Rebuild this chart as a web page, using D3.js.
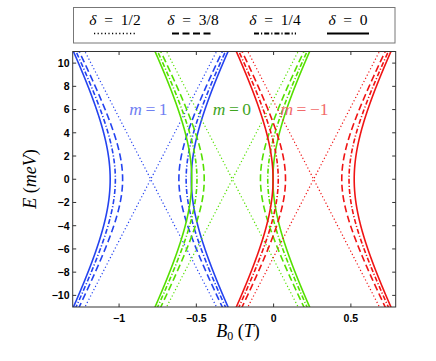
<!DOCTYPE html>
<html>
<head>
<meta charset="utf-8">
<script src="https://cdn.jsdelivr.net/npm/d3@7"></script>
<style>
  html, body { margin: 0; padding: 0; background: #fff; }
  svg { display: block; }
</style>
</head>
<body>
<svg id="chart" width="436" height="361"></svg>
<script>
// ---- data ----
const mLabels = ["m = 1", "m = 0", "m = \u22121"];
const mCenters = [-0.795, -0.267, 0.259];          // B0 (T) where each m family is centred
const mColors = ["#2443f0", "#55e000", "#f01414"];
const mLabelColors = ["#6f80f2", "#3fa51f", "#f26a6a"];
const mLabelX = [-0.81, -0.27, 0.20];               // label centre positions (data units)
const mLabelE = [5.5, 5.5, 5.5];

const deltaNames = ["1/2", "3/8", "1/4", "0"];
const deltaGaps = [0, 0.182, 0.229, 0.2625];       // half-gap at E = 0 (T)
const deltaDash = ["1.2,2.4", "7,3.5", "5,2,1.2,2", null];
const deltaWidth = [1.2, 1.6, 1.6, 1.6];

const slopeBE = 0.0387;                             // dB/dE (T per meV) of the asymptotes
const xTicks = [-1, -0.5, 0, 0.5];
const yTicks = [-10, -8, -6, -4, -2, 0, 2, 4, 6, 8, 10];
const xDomain = [-1.3, 0.79];
const yDomain = [-11, 11];

// ---- layout ----
const svg = d3.select("#chart");
const L = 72.7, R = 395.7, T = 51.5, B = 307;
const x = d3.scaleLinear().domain(xDomain).range([L, R]);
const y = d3.scaleLinear().domain(yDomain).range([B, T]);

svg.append("rect").attr("width", 436).attr("height", 361).attr("fill", "#fff");

svg.append("defs").append("clipPath").attr("id", "clip")
  .append("rect").attr("x", L).attr("y", T).attr("width", R - L).attr("height", B - T);

const plot = svg.append("g").attr("clip-path", "url(#clip)");

const Es = d3.range(-11.2, 11.21, 0.05);
const line = d3.line().x(d => x(d[0])).y(d => y(d[1]));

mCenters.forEach((c, mi) => {
  deltaGaps.forEach((a, di) => {
    [-1, 1].forEach(side => {
      const pts = Es.map(E => [c + side * Math.sqrt(a * a + slopeBE * slopeBE * E * E), E]);
      const p = plot.append("path")
        .attr("d", line(pts))
        .attr("fill", "none")
        .attr("stroke", mColors[mi])
        .attr("stroke-width", deltaWidth[di]);
      if (deltaDash[di]) p.attr("stroke-dasharray", deltaDash[di]);
    });
  });
});

// m labels
mLabels.forEach((t, i) => {
  const parts = t.split(" ");
  const txt = svg.append("text")
    .attr("x", x(mLabelX[i])).attr("y", y(mLabelE[i]))
    .attr("text-anchor", "middle")
    .attr("font-family", "'Liberation Serif', 'DejaVu Serif', serif")
    .attr("font-size", 17.5)
    .attr("fill", mLabelColors[i]);
  txt.append("tspan").attr("font-style", "italic").text(parts[0]);
  txt.append("tspan").text("\u2009" + parts[1] + "\u2009" + parts[2]);
});

// axes frame
const axisColor = "#333";
svg.append("rect").attr("x", L).attr("y", T).attr("width", R - L).attr("height", B - T)
  .attr("fill", "none").attr("stroke", axisColor).attr("stroke-width", 1);

const tickLen = 3.5;
const tickG = svg.append("g").attr("stroke", axisColor).attr("stroke-width", 1);
xTicks.forEach(v => {
  tickG.append("line").attr("x1", x(v)).attr("x2", x(v)).attr("y1", B).attr("y2", B - tickLen);
  tickG.append("line").attr("x1", x(v)).attr("x2", x(v)).attr("y1", T).attr("y2", T + tickLen);
});
yTicks.forEach(v => {
  tickG.append("line").attr("x1", L).attr("x2", L + tickLen).attr("y1", y(v)).attr("y2", y(v));
  tickG.append("line").attr("x1", R).attr("x2", R - tickLen).attr("y1", y(v)).attr("y2", y(v));
});

const fmt = v => (v < 0 ? "\u2212" : "") + Math.abs(v);
svg.append("g").selectAll("text").data(xTicks).join("text")
  .attr("x", d => x(d)).attr("y", 322)
  .attr("text-anchor", "middle")
  .attr("font-family", "'Liberation Sans', Arial, sans-serif")
  .attr("font-weight", "bold").attr("font-size", 10.5)
  .text(fmt);
svg.append("g").selectAll("text").data(yTicks).join("text")
  .attr("x", 69.5).attr("y", d => y(d) + 3.8)
  .attr("text-anchor", "end")
  .attr("font-family", "'Liberation Sans', Arial, sans-serif")
  .attr("font-weight", "bold").attr("font-size", 10.5)
  .text(fmt);

// axis titles
const serif = "'Liberation Serif', 'DejaVu Serif', serif";
const xt = svg.append("text").attr("x", 238).attr("y", 337)
  .attr("text-anchor", "middle").attr("font-family", serif).attr("font-size", 18);
xt.append("tspan").attr("font-style", "italic").text("B");
xt.append("tspan").attr("font-size", 12).attr("dy", 3).text("0");
xt.append("tspan").attr("dy", -3).text(" (");
xt.append("tspan").attr("font-style", "italic").text("T");
xt.append("tspan").text(")");

const yt = svg.append("text")
  .attr("transform", "translate(36,179) rotate(-90)")
  .attr("text-anchor", "middle").attr("font-family", serif).attr("font-size", 18);
yt.append("tspan").attr("font-style", "italic").text("E");
yt.append("tspan").text(" (");
yt.append("tspan").attr("font-style", "italic").text("meV");
yt.append("tspan").text(")");

// legend
const lg = svg.append("g");
lg.append("rect").attr("x", 73.5).attr("y", 7.5).attr("width", 321.5).attr("height", 35.5)
  .attr("fill", "#fff").attr("stroke", "#777").attr("stroke-width", 1);
const legendX = [115, 193, 275, 348];
deltaNames.forEach((nm, i) => {
  const t = lg.append("text").attr("x", legendX[i]).attr("y", 25)
    .attr("text-anchor", "middle").attr("font-family", serif).attr("font-size", 15.5);
  t.append("tspan").attr("font-style", "italic").text("\u03b4");
  t.append("tspan").text("\u2002=\u2002" + nm);
  const l = lg.append("line")
    .attr("x1", legendX[i] - 21).attr("x2", legendX[i] + 21)
    .attr("y1", 33.5).attr("y2", 33.5)
    .attr("stroke", "#000").attr("stroke-width", deltaWidth[i] + 0.2);
  if (deltaDash[i]) l.attr("stroke-dasharray", deltaDash[i]);
});
</script>
</body>
</html>
